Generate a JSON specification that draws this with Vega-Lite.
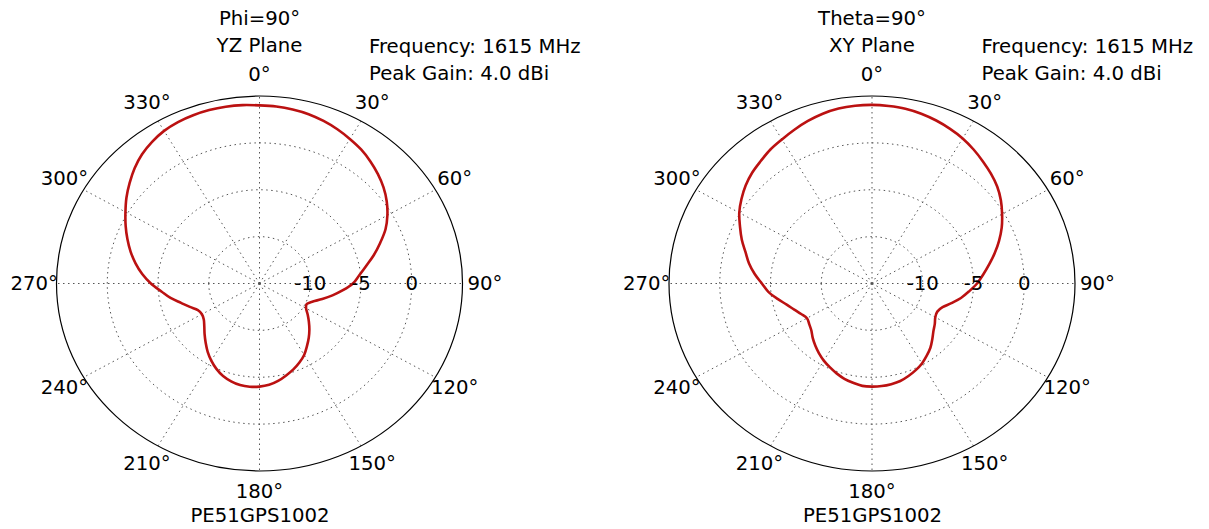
{
  "$schema": "https://vega.github.io/schema/vega-lite/v6.json",
  "background": "white",
  "padding": {"left": 9.5, "top": 8, "right": 0, "bottom": 0},
  "bounds": "flush",
  "spacing": 206.5,
  "config": {
    "view": {"stroke": null},
    "font": "DejaVu Sans",
    "title": {"fontSize": 19.7, "font": "DejaVu Sans", "fontWeight": "normal", "color": "black", "lineHeight": 27, "offset": -18.6, "anchor": "middle", "frame": "group"},
    "axisX": {"domain": false, "ticks": false, "labels": false, "grid": false, "titleFontSize": 19.7, "titleFont": "DejaVu Sans", "titleFontWeight": "normal", "titleColor": "black", "titlePadding": 34},
    "text": {"font": "DejaVu Sans", "fontSize": 19.7, "color": "black"}
  },
  "datasets": {
    "yz": [
      {"angle": 0, "gain": 4.0}, {"angle": 5, "gain": 3.95}, {"angle": 10, "gain": 3.85}, {"angle": 15, "gain": 3.7},
      {"angle": 20, "gain": 3.45}, {"angle": 25, "gain": 3.15}, {"angle": 30, "gain": 2.8}, {"angle": 35, "gain": 2.45},
      {"angle": 40, "gain": 2.0}, {"angle": 45, "gain": 1.5}, {"angle": 50, "gain": 0.95}, {"angle": 55, "gain": 0.3},
      {"angle": 60, "gain": -0.45}, {"angle": 65, "gain": -1.3}, {"angle": 70, "gain": -2.35}, {"angle": 75, "gain": -3.35},
      {"angle": 80, "gain": -4.35}, {"angle": 85, "gain": -5.15}, {"angle": 90, "gain": -5.8}, {"angle": 95, "gain": -6.75},
      {"angle": 100, "gain": -7.7}, {"angle": 105, "gain": -8.6}, {"angle": 110, "gain": -9.4}, {"angle": 115, "gain": -9.85},
      {"angle": 120, "gain": -9.7}, {"angle": 125, "gain": -9.2}, {"angle": 130, "gain": -8.65}, {"angle": 135, "gain": -8.05},
      {"angle": 140, "gain": -7.45}, {"angle": 145, "gain": -6.85}, {"angle": 150, "gain": -6.2}, {"angle": 155, "gain": -5.7},
      {"angle": 160, "gain": -5.25}, {"angle": 165, "gain": -4.85}, {"angle": 170, "gain": -4.45}, {"angle": 175, "gain": -4.15},
      {"angle": 180, "gain": -4.0}, {"angle": 185, "gain": -3.95}, {"angle": 190, "gain": -4.0}, {"angle": 195, "gain": -4.2},
      {"angle": 200, "gain": -4.5}, {"angle": 205, "gain": -4.95}, {"angle": 210, "gain": -5.5}, {"angle": 215, "gain": -6.1},
      {"angle": 220, "gain": -6.75}, {"angle": 225, "gain": -7.35}, {"angle": 230, "gain": -7.9}, {"angle": 235, "gain": -8.3},
      {"angle": 240, "gain": -8.45}, {"angle": 245, "gain": -8.3}, {"angle": 250, "gain": -7.7}, {"angle": 255, "gain": -7.0},
      {"angle": 260, "gain": -6.1}, {"angle": 265, "gain": -5.3}, {"angle": 270, "gain": -4.3}, {"angle": 275, "gain": -3.4},
      {"angle": 280, "gain": -2.6}, {"angle": 285, "gain": -1.85}, {"angle": 290, "gain": -1.15}, {"angle": 295, "gain": -0.45},
      {"angle": 300, "gain": 0.25}, {"angle": 305, "gain": 1.0}, {"angle": 310, "gain": 1.7}, {"angle": 315, "gain": 2.4},
      {"angle": 320, "gain": 3.0}, {"angle": 325, "gain": 3.45}, {"angle": 330, "gain": 3.8}, {"angle": 335, "gain": 4.0},
      {"angle": 340, "gain": 4.1}, {"angle": 345, "gain": 4.15}, {"angle": 350, "gain": 4.15}, {"angle": 355, "gain": 4.1}
    ],
    "xy": [
      {"angle": 0, "gain": 4.05}, {"angle": 5, "gain": 4.0}, {"angle": 10, "gain": 3.93}, {"angle": 15, "gain": 3.75},
      {"angle": 20, "gain": 3.5}, {"angle": 25, "gain": 3.2}, {"angle": 30, "gain": 2.87}, {"angle": 35, "gain": 2.45},
      {"angle": 40, "gain": 2.0}, {"angle": 45, "gain": 1.57}, {"angle": 50, "gain": 1.1}, {"angle": 55, "gain": 0.5},
      {"angle": 60, "gain": -0.2}, {"angle": 65, "gain": -0.9}, {"angle": 70, "gain": -1.68}, {"angle": 75, "gain": -2.48},
      {"angle": 80, "gain": -3.28}, {"angle": 85, "gain": -4.0}, {"angle": 90, "gain": -4.65}, {"angle": 95, "gain": -5.4},
      {"angle": 100, "gain": -6.1}, {"angle": 105, "gain": -6.9}, {"angle": 110, "gain": -7.6}, {"angle": 115, "gain": -7.9},
      {"angle": 120, "gain": -7.8}, {"angle": 125, "gain": -7.45}, {"angle": 130, "gain": -7.1}, {"angle": 135, "gain": -6.6},
      {"angle": 140, "gain": -6.05}, {"angle": 145, "gain": -5.6}, {"angle": 150, "gain": -5.15}, {"angle": 155, "gain": -4.8},
      {"angle": 160, "gain": -4.5}, {"angle": 165, "gain": -4.23}, {"angle": 170, "gain": -4.1}, {"angle": 175, "gain": -4.02},
      {"angle": 180, "gain": -4.0}, {"angle": 185, "gain": -4.04}, {"angle": 190, "gain": -4.25}, {"angle": 195, "gain": -4.48},
      {"angle": 200, "gain": -4.8}, {"angle": 205, "gain": -5.15}, {"angle": 210, "gain": -5.5}, {"angle": 215, "gain": -5.9},
      {"angle": 220, "gain": -6.32}, {"angle": 225, "gain": -6.75}, {"angle": 230, "gain": -7.2}, {"angle": 235, "gain": -7.45},
      {"angle": 240, "gain": -7.6}, {"angle": 245, "gain": -7.3}, {"angle": 250, "gain": -6.85}, {"angle": 255, "gain": -6.3},
      {"angle": 260, "gain": -5.55}, {"angle": 265, "gain": -4.75}, {"angle": 270, "gain": -4.15}, {"angle": 275, "gain": -3.4},
      {"angle": 280, "gain": -2.7}, {"angle": 285, "gain": -2.1}, {"angle": 290, "gain": -1.35}, {"angle": 295, "gain": -0.65},
      {"angle": 300, "gain": 0.1}, {"angle": 305, "gain": 0.7}, {"angle": 310, "gain": 1.25}, {"angle": 315, "gain": 1.7},
      {"angle": 320, "gain": 2.05}, {"angle": 325, "gain": 2.45}, {"angle": 330, "gain": 2.75}, {"angle": 335, "gain": 3.1},
      {"angle": 340, "gain": 3.45}, {"angle": 345, "gain": 3.75}, {"angle": 350, "gain": 3.95}, {"angle": 355, "gain": 4.03}
    ],
    "spokes": [
      {"angle": 0, "label": "0°"}, {"angle": 30, "label": "30°"}, {"angle": 60, "label": "60°"}, {"angle": 90, "label": "90°"},
      {"angle": 120, "label": "120°"}, {"angle": 150, "label": "150°"}, {"angle": 180, "label": "180°"}, {"angle": 210, "label": "210°"},
      {"angle": 240, "label": "240°"}, {"angle": 270, "label": "270°"}, {"angle": 300, "label": "300°"}, {"angle": 330, "label": "330°"}
    ],
    "rings": [
      {"level": -10, "label": "-10"}, {"level": -5, "label": "-5"}, {"level": 0, "label": "0"}
    ]
  },
  "hconcat": [
    {
      "width": 406, "height": 375,
      "title": {"text": ["Phi=90°", "YZ Plane"]},
      "layer": [
        {
          "data": {"name": "spokes"},
          "transform": [
            {"calculate": "0", "as": "ox"},
            {"calculate": "20 * sin(datum.angle * PI / 180)", "as": "sx"},
            {"calculate": "20 * cos(datum.angle * PI / 180)", "as": "sy"}
          ],
          "mark": {"type": "rule", "color": "#555555", "strokeWidth": 1, "strokeDash": [1.5, 3.5]},
          "encoding": {
            "x": {"field": "ox", "type": "quantitative", "scale": {"domain": [-20, 20], "nice": false}, "title": "PE51GPS1002"},
            "y": {"field": "ox", "type": "quantitative", "scale": {"domain": [-20, 20], "nice": false}, "axis": null},
            "x2": {"field": "sx"},
            "y2": {"field": "sy"}
          }
        },
        {
          "data": {"name": "rings"},
          "transform": [{"calculate": "datum.level + 15", "as": "r"}, {"calculate": "0", "as": "ox"}],
          "mark": {"type": "point", "shape": "M-1,0A1,0.92365 0 1,1 1,0A1,0.92365 0 1,1 -1,0Z", "filled": false, "opacity": 1, "stroke": "#555555", "strokeWidth": 1, "strokeDash": [1.5, 3.5]},
          "encoding": {
            "x": {"field": "ox", "type": "quantitative", "scale": {"domain": [-20, 20], "nice": false}, "title": "PE51GPS1002"},
            "y": {"field": "ox", "type": "quantitative", "scale": {"domain": [-20, 20], "nice": false}, "axis": null},
            "size": {"field": "r", "type": "quantitative", "scale": {"type": "pow", "exponent": 2, "domain": [0, 20], "range": [0, 164836]}, "legend": null}
          }
        },
        {
          "data": {"values": [{"level": 5}]},
          "transform": [{"calculate": "0", "as": "ox"}],
          "mark": {"type": "point", "shape": "M-1,0A1,0.92365 0 1,1 1,0A1,0.92365 0 1,1 -1,0Z", "filled": false, "opacity": 1, "stroke": "black", "strokeWidth": 1.2, "size": 164836},
          "encoding": {
            "x": {"field": "ox", "type": "quantitative", "scale": {"domain": [-20, 20], "nice": false}, "title": "PE51GPS1002"},
            "y": {"field": "ox", "type": "quantitative", "scale": {"domain": [-20, 20], "nice": false}, "axis": null}
          }
        },
        {
          "data": {"name": "yz"},
          "transform": [
            {"calculate": "(datum.gain + 15) * sin(datum.angle * PI / 180)", "as": "px"},
            {"calculate": "(datum.gain + 15) * cos(datum.angle * PI / 180)", "as": "py"}
          ],
          "mark": {"type": "line", "color": "#bb1111", "strokeWidth": 2.6, "interpolate": "cardinal-closed"},
          "encoding": {
            "x": {"field": "px", "type": "quantitative", "scale": {"domain": [-20, 20], "nice": false}, "title": "PE51GPS1002"},
            "y": {"field": "py", "type": "quantitative", "scale": {"domain": [-20, 20], "nice": false}, "axis": null},
            "order": {"field": "angle", "type": "quantitative"}
          }
        },
        {
          "data": {"name": "spokes"},
          "transform": [
            {"calculate": "22.2 * sin(datum.angle * PI / 180)", "as": "lx"},
            {"calculate": "22.2 * cos(datum.angle * PI / 180)", "as": "ly"}
          ],
          "mark": {"type": "text", "align": "center", "baseline": "middle"},
          "encoding": {
            "x": {"field": "lx", "type": "quantitative", "scale": {"domain": [-20, 20], "nice": false}, "title": "PE51GPS1002"},
            "y": {"field": "ly", "type": "quantitative", "scale": {"domain": [-20, 20], "nice": false}, "axis": null},
            "text": {"field": "label", "type": "nominal"}
          }
        },
        {
          "data": {"name": "rings"},
          "transform": [{"calculate": "datum.level + 15", "as": "r"}, {"calculate": "0", "as": "ox"}],
          "mark": {"type": "text", "align": "center", "baseline": "middle"},
          "encoding": {
            "x": {"field": "r", "type": "quantitative", "scale": {"domain": [-20, 20], "nice": false}, "title": "PE51GPS1002"},
            "y": {"field": "ox", "type": "quantitative", "scale": {"domain": [-20, 20], "nice": false}, "axis": null},
            "text": {"field": "label", "type": "nominal"}
          }
        },
        {
          "data": {"values": [{"line1": "Frequency: 1615 MHz", "tx": 10.79, "ty": 24.62}]},
          "mark": {"type": "text", "align": "left", "baseline": "alphabetic", "lineHeight": 27, "text": ["Frequency: 1615 MHz", "Peak Gain: 4.0 dBi"]},
          "encoding": {
            "x": {"field": "tx", "type": "quantitative", "scale": {"domain": [-20, 20], "nice": false}, "title": "PE51GPS1002"},
            "y": {"field": "ty", "type": "quantitative", "scale": {"domain": [-20, 20], "nice": false}, "axis": null}
          }
        }
      ]
    },
    {
      "width": 406, "height": 375,
      "title": {"text": ["Theta=90°", "XY Plane"]},
      "layer": [
        {
          "data": {"name": "spokes"},
          "transform": [
            {"calculate": "0", "as": "ox"},
            {"calculate": "20 * sin(datum.angle * PI / 180)", "as": "sx"},
            {"calculate": "20 * cos(datum.angle * PI / 180)", "as": "sy"}
          ],
          "mark": {"type": "rule", "color": "#555555", "strokeWidth": 1, "strokeDash": [1.5, 3.5]},
          "encoding": {
            "x": {"field": "ox", "type": "quantitative", "scale": {"domain": [-20, 20], "nice": false}, "title": "PE51GPS1002"},
            "y": {"field": "ox", "type": "quantitative", "scale": {"domain": [-20, 20], "nice": false}, "axis": null},
            "x2": {"field": "sx"},
            "y2": {"field": "sy"}
          }
        },
        {
          "data": {"name": "rings"},
          "transform": [{"calculate": "datum.level + 15", "as": "r"}, {"calculate": "0", "as": "ox"}],
          "mark": {"type": "point", "shape": "M-1,0A1,0.92365 0 1,1 1,0A1,0.92365 0 1,1 -1,0Z", "filled": false, "opacity": 1, "stroke": "#555555", "strokeWidth": 1, "strokeDash": [1.5, 3.5]},
          "encoding": {
            "x": {"field": "ox", "type": "quantitative", "scale": {"domain": [-20, 20], "nice": false}, "title": "PE51GPS1002"},
            "y": {"field": "ox", "type": "quantitative", "scale": {"domain": [-20, 20], "nice": false}, "axis": null},
            "size": {"field": "r", "type": "quantitative", "scale": {"type": "pow", "exponent": 2, "domain": [0, 20], "range": [0, 164836]}, "legend": null}
          }
        },
        {
          "data": {"values": [{"level": 5}]},
          "transform": [{"calculate": "0", "as": "ox"}],
          "mark": {"type": "point", "shape": "M-1,0A1,0.92365 0 1,1 1,0A1,0.92365 0 1,1 -1,0Z", "filled": false, "opacity": 1, "stroke": "black", "strokeWidth": 1.2, "size": 164836},
          "encoding": {
            "x": {"field": "ox", "type": "quantitative", "scale": {"domain": [-20, 20], "nice": false}, "title": "PE51GPS1002"},
            "y": {"field": "ox", "type": "quantitative", "scale": {"domain": [-20, 20], "nice": false}, "axis": null}
          }
        },
        {
          "data": {"name": "xy"},
          "transform": [
            {"calculate": "(datum.gain + 15) * sin(datum.angle * PI / 180)", "as": "px"},
            {"calculate": "(datum.gain + 15) * cos(datum.angle * PI / 180)", "as": "py"}
          ],
          "mark": {"type": "line", "color": "#bb1111", "strokeWidth": 2.6, "interpolate": "cardinal-closed"},
          "encoding": {
            "x": {"field": "px", "type": "quantitative", "scale": {"domain": [-20, 20], "nice": false}, "title": "PE51GPS1002"},
            "y": {"field": "py", "type": "quantitative", "scale": {"domain": [-20, 20], "nice": false}, "axis": null},
            "order": {"field": "angle", "type": "quantitative"}
          }
        },
        {
          "data": {"name": "spokes"},
          "transform": [
            {"calculate": "22.2 * sin(datum.angle * PI / 180)", "as": "lx"},
            {"calculate": "22.2 * cos(datum.angle * PI / 180)", "as": "ly"}
          ],
          "mark": {"type": "text", "align": "center", "baseline": "middle"},
          "encoding": {
            "x": {"field": "lx", "type": "quantitative", "scale": {"domain": [-20, 20], "nice": false}, "title": "PE51GPS1002"},
            "y": {"field": "ly", "type": "quantitative", "scale": {"domain": [-20, 20], "nice": false}, "axis": null},
            "text": {"field": "label", "type": "nominal"}
          }
        },
        {
          "data": {"name": "rings"},
          "transform": [{"calculate": "datum.level + 15", "as": "r"}, {"calculate": "0", "as": "ox"}],
          "mark": {"type": "text", "align": "center", "baseline": "middle"},
          "encoding": {
            "x": {"field": "r", "type": "quantitative", "scale": {"domain": [-20, 20], "nice": false}, "title": "PE51GPS1002"},
            "y": {"field": "ox", "type": "quantitative", "scale": {"domain": [-20, 20], "nice": false}, "axis": null},
            "text": {"field": "label", "type": "nominal"}
          }
        },
        {
          "data": {"values": [{"line1": "Frequency: 1615 MHz", "tx": 10.79, "ty": 24.62}]},
          "mark": {"type": "text", "align": "left", "baseline": "alphabetic", "lineHeight": 27, "text": ["Frequency: 1615 MHz", "Peak Gain: 4.0 dBi"]},
          "encoding": {
            "x": {"field": "tx", "type": "quantitative", "scale": {"domain": [-20, 20], "nice": false}, "title": "PE51GPS1002"},
            "y": {"field": "ty", "type": "quantitative", "scale": {"domain": [-20, 20], "nice": false}, "axis": null}
          }
        }
      ]
    }
  ]
}
